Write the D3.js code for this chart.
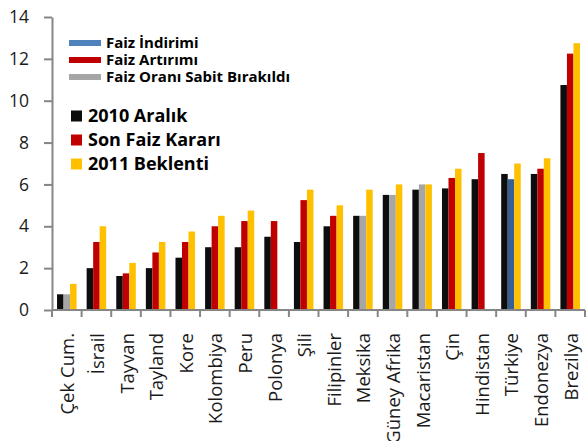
<!DOCTYPE html>
<html>
<head>
<meta charset="utf-8">
<script src="https://cdn.jsdelivr.net/npm/d3@7"></script>
<style>
  body { margin: 0; background: #fff; }
  svg { display: block; font-family: "Open Sans", sans-serif; }
  .axis path, .axis line { stroke: #868686; stroke-width: 2; }
  .axis text { fill: #1a1a1a; }
</style>
</head>
<body>
<svg id="chart"></svg>
<script>
// data
const categories = ['Çek Cum.', 'İsrail', 'Tayvan', 'Tayland', 'Kore', 'Kolombiya', 'Peru', 'Polonya', 'Şili',
	'Filipinler', 'Meksika', 'Güney Afrika', 'Macaristan', 'Çin', 'Hindistan', 'Türkiye', 'Endonezya', 'Brezilya'];
const aralik2010 = [0.75, 2, 1.625, 2, 2.5, 3, 3, 3.5, 3.25, 4, 4.5, 5.5, 5.75, 5.81, 6.25, 6.5, 6.5, 10.75];
const sonKarar = [0.75, 3.25, 1.75, 2.75, 3.25, 4, 4.25, 4.25, 5.25, 4.5, 4.5, 5.5, 6, 6.31, 7.5, 6.25, 6.75, 12.25];
const beklenti2011 = [1.25, 4, 2.25, 3.25, 3.75, 4.5, 4.75, null, 5.75, 5, 5.75, 6, 6, 6.75, null, 7, 7.25, 12.75];
// karar tipi for the middle bar: a = artırım, i = indirim, s = sabit
const kararTipi = ['s', 'a', 'a', 'a', 'a', 'a', 'a', 'a', 'a', 'a', 's', 's', 's', 'a', 'a', 'i', 'a', 'a'];
const yTicks = [0, 2, 4, 6, 8, 10, 12, 14];

const kararRenk = {a: '#c00000', i: '#376092', s: '#a6a6a6'};
const legendLines = [
	{label: 'Faiz İndirimi', color: '#4f81bd'},
	{label: 'Faiz Artırımı', color: '#c00000'},
	{label: 'Faiz Oranı Sabit Bırakıldı', color: '#a6a6a6'}
];
const legendBoxes = [
	{label: '2010 Aralık', color: '#0d0d0d'},
	{label: 'Son Faiz Kararı', color: '#c00000'},
	{label: '2011 Beklenti', color: '#ffc000'}
];

// dimensions
const margin = {top: 17, bottom: 131, left: 52, right: 1};
const width = 586 - margin.left - margin.right;
const height = 441 - margin.top - margin.bottom;

const $svg = d3.select('#chart').attr('width', 586).attr('height', 441);
const $vis = $svg.append('g')
	.attr('transform', 'translate(' + margin.left + ',' + margin.top + ')');

// scales
const scaleX = d3.scaleBand()
	.domain(categories)
	.range([0, width])
	.paddingInner(0.34)
	.paddingOuter(0.17);

const scaleSeries = d3.scaleBand()
	.domain([0, 1, 2])
	.range([0, scaleX.bandwidth()]);

const scaleY = d3.scaleLinear()
	.domain([0, 14])
	.range([height, 0]);

// bars
const rows = categories.map((c, i) => ({
	cat: c,
	bars: [
		{s: 0, v: aralik2010[i], color: legendBoxes[0].color},
		{s: 1, v: sonKarar[i], color: kararRenk[kararTipi[i]]},
		{s: 2, v: beklenti2011[i], color: legendBoxes[2].color}
	].filter(b => b.v != null)
}));

const $groups = $vis.selectAll('.grp')
	.data(rows)
	.enter()
	.append('g')
	.attr('class', 'grp')
	.attr('transform', d => 'translate(' + scaleX(d.cat) + ',0)');

$groups.selectAll('rect')
	.data(d => d.bars)
	.enter()
	.append('rect')
	.attr('x', d => scaleSeries(d.s))
	.attr('y', d => scaleY(d.v))
	.attr('width', scaleSeries.bandwidth())
	.attr('height', d => scaleY(0) - scaleY(d.v))
	.style('fill', d => d.color);

// axes
const step = scaleX.step();
const $xAxis = $vis.append('g')
	.attr('class', 'axis axis--x')
	.attr('transform', 'translate(0,' + height + ')');

$xAxis.append('line')
	.attr('x1', 0).attr('x2', width)
	.attr('y1', 0).attr('y2', 0);

$xAxis.selectAll('.tick')
	.data(d3.range(categories.length + 1))
	.enter()
	.append('line')
	.attr('x1', i => i * step).attr('x2', i => i * step)
	.attr('y1', 0).attr('y2', 7);

$xAxis.selectAll('text')
	.data(categories)
	.enter()
	.append('text')
	.attr('transform', d => 'translate(' + (scaleX(d) + scaleX.bandwidth() / 2 + 1) + ',23) rotate(-90)')
	.attr('dy', '0.35em')
	.style('text-anchor', 'end')
	.style('font-size', '18.5px')
	.text(d => d);

$vis.append('g')
	.attr('class', 'axis axis--y')
	.call(d3.axisLeft(scaleY).tickValues(yTicks).tickSize(8).tickPadding(15).tickSizeOuter(0))
	.call(g => g.selectAll('text').style('font-size', '17.5px').style('font-family', '"Open Sans", sans-serif'));

// legend
const $leg1 = $svg.append('g').attr('transform', 'translate(69,43)');
$leg1.selectAll('line')
	.data(legendLines)
	.enter()
	.append('line')
	.attr('x1', 0).attr('x2', 32)
	.attr('y1', (d, i) => i * 17).attr('y2', (d, i) => i * 17)
	.style('stroke', d => d.color)
	.style('stroke-width', 6);
$leg1.selectAll('text')
	.data(legendLines)
	.enter()
	.append('text')
	.attr('x', 37)
	.attr('y', (d, i) => i * 17)
	.attr('dy', '0.35em')
	.style('font-size', '15px')
	.style('font-weight', 'bold')
	.style('fill', '#000')
	.text(d => d.label);

const $leg2 = $svg.append('g').attr('transform', 'translate(71,116)');
$leg2.selectAll('rect')
	.data(legendBoxes)
	.enter()
	.append('rect')
	.attr('x', 0)
	.attr('y', (d, i) => i * 24 - 5.5)
	.attr('width', 11).attr('height', 11)
	.style('fill', d => d.color);
$leg2.selectAll('text')
	.data(legendBoxes)
	.enter()
	.append('text')
	.attr('x', 17)
	.attr('y', (d, i) => i * 24)
	.attr('dy', '0.35em')
	.style('font-size', '18px')
	.style('font-weight', 'bold')
	.style('fill', '#000')
	.text(d => d.label);
</script>
</body>
</html>
